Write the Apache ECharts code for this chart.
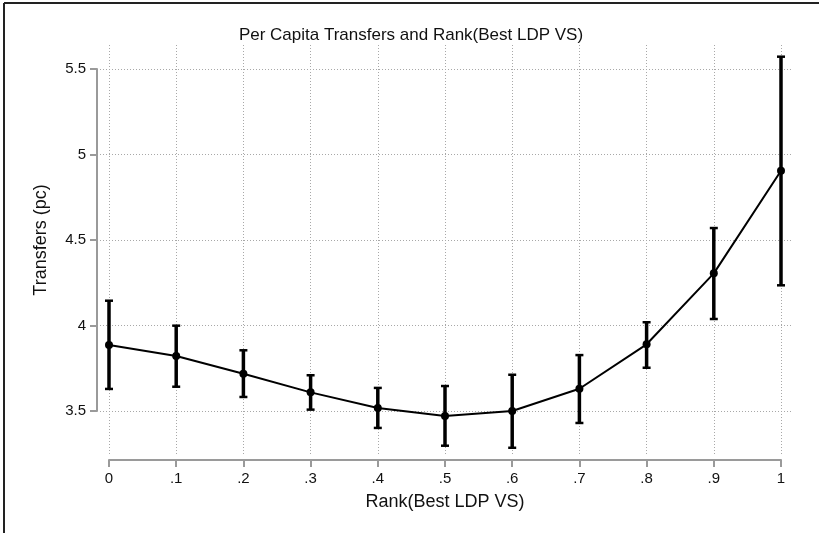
<!DOCTYPE html>
<html>
<head>
<meta charset="utf-8">
<script src="https://cdn.jsdelivr.net/npm/echarts@6/dist/echarts.min.js"></script>
<style>
html,body{margin:0;padding:0;background:#fff;}
#chart{width:819px;height:533px;}
</style>
</head>
<body>
<div id="chart"></div>
<script>
var ranks = [0, 0.1, 0.2, 0.3, 0.4, 0.5, 0.6, 0.7, 0.8, 0.9, 1];
var means = [3.886, 3.822, 3.718, 3.609, 3.518, 3.471, 3.500, 3.630, 3.890, 4.305, 4.905];
var lower = [3.629, 3.642, 3.582, 3.508, 3.401, 3.297, 3.285, 3.430, 3.753, 4.038, 4.235];
var upper = [4.145, 3.999, 3.855, 3.709, 3.635, 3.646, 3.712, 3.827, 4.019, 4.570, 5.572];
var yTicks = [3.5, 4, 4.5, 5, 5.5];

var FONT = 'Liberation Sans';
var chart = echarts.init(document.getElementById('chart'));

function fmtX(v) {
  var r = Math.round(v * 10) / 10;
  if (r === 0) return '0';
  if (r === 1) return '1';
  return String(r).replace(/^0/, '');
}
function fmtY(v) {
  var r = Math.round(v * 10) / 10;
  return yTicks.indexOf(r) >= 0 ? String(r) : '';
}

var linePts = ranks.map(function (r, i) { return [r, means[i]]; });
var errPts = ranks.map(function (r, i) { return [r, lower[i], upper[i]]; });

chart.setOption({
  animation: false,
  backgroundColor: '#ffffff',
  title: {
    text: 'Per Capita Transfers and Rank(Best LDP VS)',
    left: 406, top: 22, textAlign: 'center',
    textStyle: { fontFamily: FONT, fontSize: 17, fontWeight: 'normal', color: '#111' }
  },
  graphic: [
    { type: 'line', shape: { x1: 4, y1: 3, x2: 819, y2: 3 }, style: { stroke: '#222', lineWidth: 2 } },
    { type: 'line', shape: { x1: 4, y1: 3, x2: 4, y2: 533 }, style: { stroke: '#222', lineWidth: 2 } }
  ],
  grid: [
    { left: 109, right: 38, top: 69, bottom: 122 },
    { left: 109, right: 38, top: 45, bottom: 78 },
    { left: 100, right: 27, top: 69, bottom: 122 }
  ],
  xAxis: [
    {
      gridIndex: 0, type: 'value', min: 0, max: 1, interval: 0.1, offset: 49,
      axisLine: { show: true, onZero: false, lineStyle: { color: '#9a9a9a', width: 2 } },
      axisTick: { show: true, length: 7, lineStyle: { color: '#9a9a9a', width: 2 } },
      axisLabel: { formatter: fmtX, margin: 11, color: '#111', fontFamily: FONT, fontSize: 15 },
      splitLine: { show: false },
      name: 'Rank(Best LDP VS)', nameLocation: 'middle', nameGap: 33,
      nameTextStyle: { fontFamily: FONT, fontSize: 18, color: '#111' }
    },
    {
      gridIndex: 1, type: 'value', min: 0, max: 1, interval: 0.1,
      axisLine: { show: false }, axisTick: { show: false }, axisLabel: { show: false },
      splitLine: { show: true, lineStyle: { color: '#a8a8a8', width: 1, type: [1, 2] } }
    },
    {
      gridIndex: 2, type: 'value', min: 0, max: 1,
      axisLine: { show: false }, axisTick: { show: false }, axisLabel: { show: false },
      splitLine: { show: false }
    }
  ],
  yAxis: [
    {
      gridIndex: 0, type: 'value', min: 3.5, max: 5.5, interval: 0.5, offset: 12,
      axisLine: { show: true, onZero: false, lineStyle: { color: '#9a9a9a', width: 2 } },
      axisTick: { show: true, length: 7, lineStyle: { color: '#9a9a9a', width: 2 } },
      axisLabel: { formatter: fmtY, margin: 11, color: '#111', fontFamily: FONT, fontSize: 15 },
      splitLine: { show: false },
      name: 'Transfers (pc)', nameLocation: 'middle', nameGap: 47, nameRotate: 90,
      nameTextStyle: { fontFamily: FONT, fontSize: 18, color: '#111' }
    },
    {
      gridIndex: 1, type: 'value', min: 0, max: 1,
      axisLine: { show: false }, axisTick: { show: false }, axisLabel: { show: false },
      splitLine: { show: false }
    },
    {
      gridIndex: 2, type: 'value', min: 3.5, max: 5.5, interval: 0.5,
      axisLine: { show: false }, axisTick: { show: false }, axisLabel: { show: false },
      splitLine: { show: true, lineStyle: { color: '#a8a8a8', width: 1, type: [1, 2] } }
    }
  ],
  series: [
    {
      type: 'custom', xAxisIndex: 0, yAxisIndex: 0, clip: false,
      data: errPts,
      renderItem: function (params, api) {
        var lo = api.coord([api.value(0), api.value(1)]);
        var hi = api.coord([api.value(0), api.value(2)]);
        var cap = 4;
        return {
          type: 'group',
          children: [
            { type: 'line', shape: { x1: lo[0], y1: lo[1], x2: hi[0], y2: hi[1] }, style: { stroke: '#000', lineWidth: 3.5 } },
            { type: 'line', shape: { x1: lo[0] - cap, y1: lo[1], x2: lo[0] + cap, y2: lo[1] }, style: { stroke: '#000', lineWidth: 2.5 } },
            { type: 'line', shape: { x1: hi[0] - cap, y1: hi[1], x2: hi[0] + cap, y2: hi[1] }, style: { stroke: '#000', lineWidth: 2.5 } }
          ]
        };
      },
      z: 3
    },
    {
      type: 'line', xAxisIndex: 0, yAxisIndex: 0, clip: false,
      data: linePts,
      symbol: 'circle', symbolSize: 8, showSymbol: true,
      lineStyle: { color: '#000', width: 2 },
      itemStyle: { color: '#000' },
      z: 4
    }
  ]
});
</script>
</body>
</html>
